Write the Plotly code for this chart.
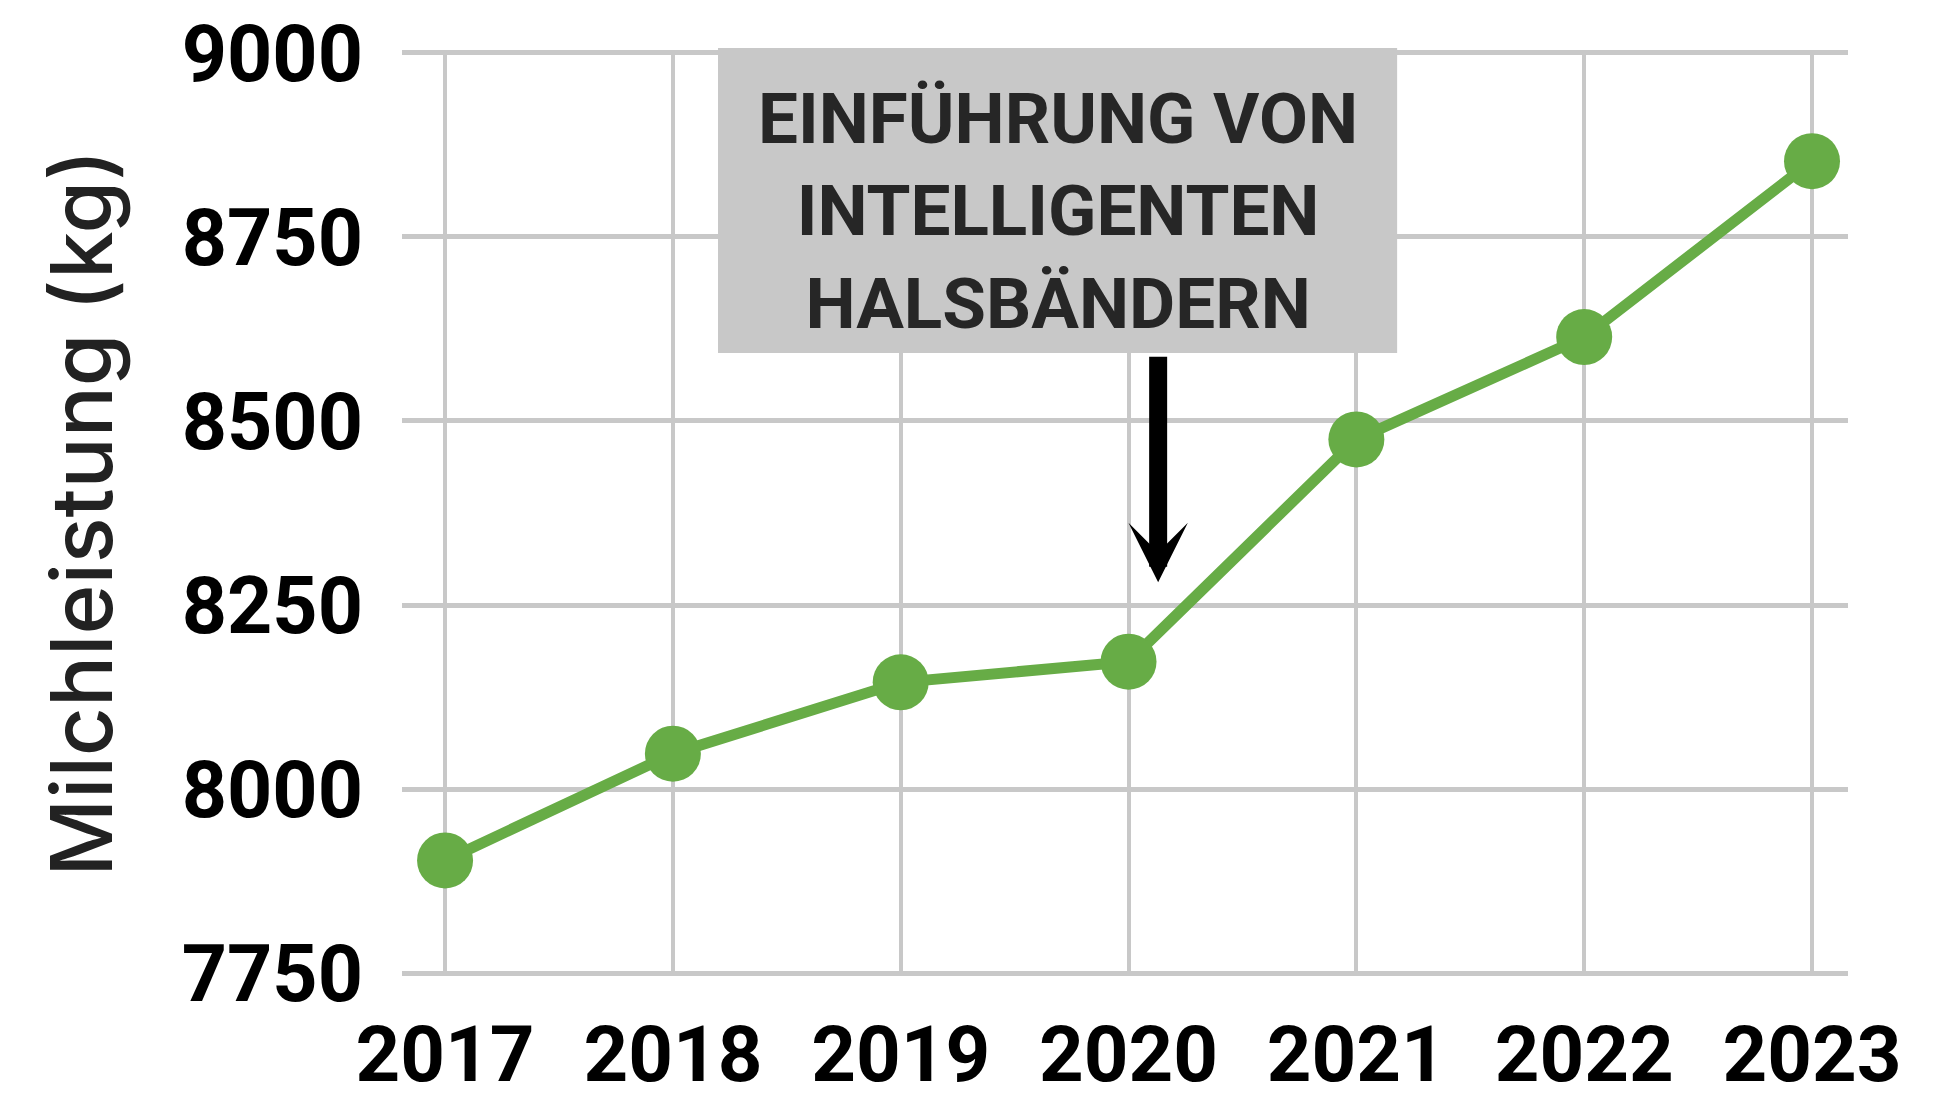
import plotly.graph_objects as go

# ---- data ----
years = [2017, 2018, 2019, 2020, 2021, 2022, 2023]
milk_kg = [7903, 8048, 8145, 8173, 8475, 8614, 8853]
y_ticks = [7750, 8000, 8250, 8500, 8750, 9000]
y_title = "Milchleistung (kg)"
note_lines = ["EINFÜHRUNG VON", "INTELLIGENTEN", "HALSBÄNDERN"]
note_year = 2020.13
note_target = 8281

GREEN = "#67ac46"
GRID = "#c8c8c8"
BOX = "#c8c8c8"

fig = go.Figure()
fig.add_trace(go.Scatter(
    x=years, y=milk_kg, mode="lines+markers",
    line=dict(color=GREEN, width=11),
    marker=dict(color=GREEN, size=56),
    cliponaxis=False, hoverinfo="x+y", showlegend=False,
))

# grey note box (drawn above the grid)
fig.add_shape(
    type="rect", xref="x", yref="paper",
    x0=2018.198, x1=2021.179, y0=0.6728, y1=1.0022,
    fillcolor=BOX, line=dict(width=0), layer="above",
)
# note text
fig.add_annotation(
    x=2019.689, y=0.8261, xref="x", yref="paper",
    xanchor="center", yanchor="middle",
    text="<br>".join(note_lines),
    showarrow=False, align="center",
    font=dict(family="Roboto", size=71, color="#262626", weight=700),
)
# arrow
fig.add_annotation(
    x=note_year, y=note_target, xref="x", yref="y",
    text="", showarrow=True, ax=0, ay=-227,
    arrowhead=3, arrowwidth=18, arrowsize=0.55, arrowcolor="#000000",
    standoff=0,
)

fig.update_xaxes(
    range=[2016.811, 2023.158],
    tickmode="array", tickvals=years, ticktext=[str(y) for y in years],
    showgrid=True, gridcolor=GRID, gridwidth=4,
    zeroline=False, showline=False, ticks="",
    tickfont=dict(family="Roboto", size=78, color="#000000", weight=700),
    ticklabelstandoff=26,
)
fig.update_yaxes(
    range=[7746, 9004],
    tickmode="array", tickvals=y_ticks, ticktext=[str(v) for v in y_ticks],
    showgrid=True, gridcolor=GRID, gridwidth=5,
    zeroline=False, showline=False, ticks="",
    tickfont=dict(family="Roboto", size=79, color="#000000", weight=700),
    ticklabelstandoff=38,
    title=dict(text=y_title, standoff=40,
               font=dict(family="Inter", size=85, color="#222222", weight=500)),
)
fig.update_layout(
    width=1947, height=1104,
    margin=dict(l=402, r=99, t=50, b=128, autoexpand=False),
    plot_bgcolor="white", paper_bgcolor="white",
)

fig.write_html("out.html", config={"displayModeBar": False},
               post_script="document.body.style.margin='0';document.body.style.overflow='hidden';")
